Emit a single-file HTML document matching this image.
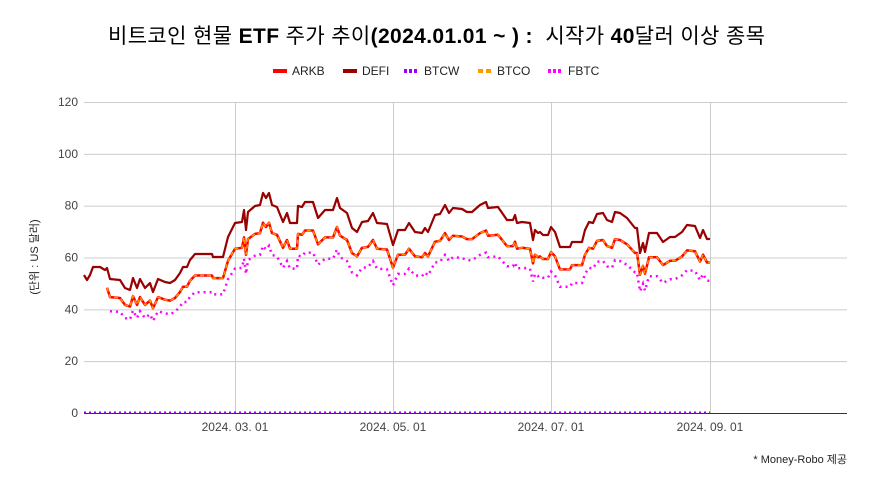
<!DOCTYPE html>
<html><head><meta charset="utf-8">
<style>
html,body{margin:0;padding:0;background:#fff;}
body{width:872px;height:491px;overflow:hidden;font-family:"Liberation Sans","Noto Sans CJK KR",sans-serif;}
svg text{font-family:"Liberation Sans","Noto Sans CJK KR",sans-serif;}
</style></head><body>
<svg id="c" width="872" height="491" xmlns="http://www.w3.org/2000/svg">
<text x="108" y="43" font-size="21" fill="#000" textLength="657" lengthAdjust="spacing" xml:space="preserve">비트코인 현물 <tspan font-weight="bold">ETF</tspan> 주가 추이<tspan font-weight="bold">(2024.01.01 ~ ) :</tspan>  시작가 <tspan font-weight="bold">40</tspan>달러 이상 종목</text>
<g font-size="12" fill="#222">
<rect x="273" y="69" width="14" height="4" fill="#ff0000"/><text x="292" y="75">ARKB</text>
<rect x="343" y="69" width="14" height="4" fill="#990000"/><text x="362" y="75">DEFI</text>
<g fill="#9900ff"><rect x="404" y="69" width="3" height="4"/><rect x="409" y="69" width="3" height="4"/><rect x="414" y="69" width="3" height="4"/></g><text x="424" y="75">BTCW</text>
<g fill="#ff9900"><rect x="478" y="69" width="5" height="4"/><rect x="486" y="69" width="5" height="4"/></g><text x="497" y="75">BTCO</text>
<g fill="#ff00ff"><rect x="548" y="69" width="3" height="4"/><rect x="553" y="69" width="3" height="4"/><rect x="558" y="69" width="3" height="4"/></g><text x="568" y="75">FBTC</text>
</g>
<g id="grid" stroke="#cccccc" stroke-width="1"></g>
<g id="lab" font-size="12" fill="#444"></g>
<text transform="translate(38,257) rotate(-90)" text-anchor="middle" font-size="11" fill="#222">(단위 : US 달러)</text>
<g id="series"></g>
<text x="847" y="463" text-anchor="end" font-size="11" fill="#222">* Money-Robo 제공</text>
</svg>
<script>
var ns="http://www.w3.org/2000/svg";
function el(p,t,a,txt){var e=document.createElementNS(ns,t);for(var k in a)e.setAttribute(k,a[k]);if(txt!==undefined)e.textContent=txt;p.appendChild(e);return e;}
var g=document.getElementById('grid'),lab=document.getElementById('lab'),s=document.getElementById('series');
function Y(v){return 413-v*2.5917;}
for(var v=20;v<=120;v+=20){el(g,'line',{x1:84,x2:847,y1:Y(v)+0.5,y2:Y(v)+0.5});}
[235,393,551,710].forEach(function(x){el(g,'line',{x1:x+0.5,x2:x+0.5,y1:102,y2:413});});
for(var v=0;v<=120;v+=20){el(lab,'text',{x:78,y:Y(v)+4,'text-anchor':'end'},String(v));}
[[235,'2024. 03. 01'],[393,'2024. 05. 01'],[551,'2024. 07. 01'],[710,'2024. 09. 01']].forEach(function(a){el(lab,'text',{x:a[0],y:431,'text-anchor':'middle'},a[1]);});
var d=[[84,275],[87,280],[90,275],[93,267],[100,267],[105,270],[107,268],[110,279],[120,280],[125,288],[130,290],[133,278],[137,288],[140,279],[145,288],[150,283],[153,292],[158,279],[165,282],[170,283],[175,280],[180,273],[183,267],[187,267],[190,260],[195,254],[212,254],[213,257],[218,257],[223,257],[228,237],[235,223],[242,222],[244,210],[246,230],[248,212],[255,206],[260,205],[263,193],[266,198],[269,193],[272,205],[277,207],[283,222],[287,213],[290,223],[297,223],[298,206],[302,207],[305,202],[313,202],[318,218],[325,210],[333,210],[337,198],[340,208],[347,213],[352,228],[357,232],[362,222],[368,221],[373,213],[377,223],[387,224],[393,245],[398,230],[405,230],[409,223],[415,232],[422,233],[425,228],[428,232],[435,215],[440,214],[445,205],[449,213],[453,208],[462,209],[467,212],[472,212],[480,205],[486,202],[488,208],[498,207],[507,220],[513,220],[515,215],[517,223],[522,222],[530,223],[533,240],[535,230],[538,233],[540,232],[543,235],[548,235],[551,227],[555,232],[560,247],[570,247],[572,242],[582,242],[585,230],[589,222],[593,223],[597,214],[603,213],[607,220],[612,222],[615,212],[620,213],[627,218],[635,228],[637,228],[640,253],[643,243],[645,252],[649,233],[657,233],[663,242],[670,237],[675,237],[682,232],[687,225],[695,226],[700,238],[703,230],[707,239],[710,239]];
function pts(r,xs){return d.filter(function(p){return p[0]>=xs;}).map(function(p){var v=(413-p[1])/2.5917*r;return p[0]+','+Y(v).toFixed(1);}).join(' ');}
el(s,'line',{x1:84,x2:847,y1:413.5,y2:413.5,stroke:'#333','stroke-width':1});
el(s,'line',{x1:84,x2:710,y1:412.5,y2:412.5,stroke:'#9900ff','stroke-width':2,'stroke-dasharray':'2,3'});
el(s,'polyline',{points:pts(0.76,109),fill:'none',stroke:'#ff00ff','stroke-width':2.5,'stroke-dasharray':'2,4'});
el(s,'polyline',{points:pts(0.865,107),fill:'none',stroke:'#ff0000','stroke-width':2.5,'stroke-linejoin':'round'});
el(s,'polyline',{points:pts(0.865,107),fill:'none',stroke:'#ff9900','stroke-width':1.5,'stroke-dasharray':'4,3'});
el(s,'polyline',{points:d.map(function(p){return p.join(',');}).join(' '),fill:'none',stroke:'#990000','stroke-width':2.2,'stroke-linejoin':'round'});
</script>
</body></html>
